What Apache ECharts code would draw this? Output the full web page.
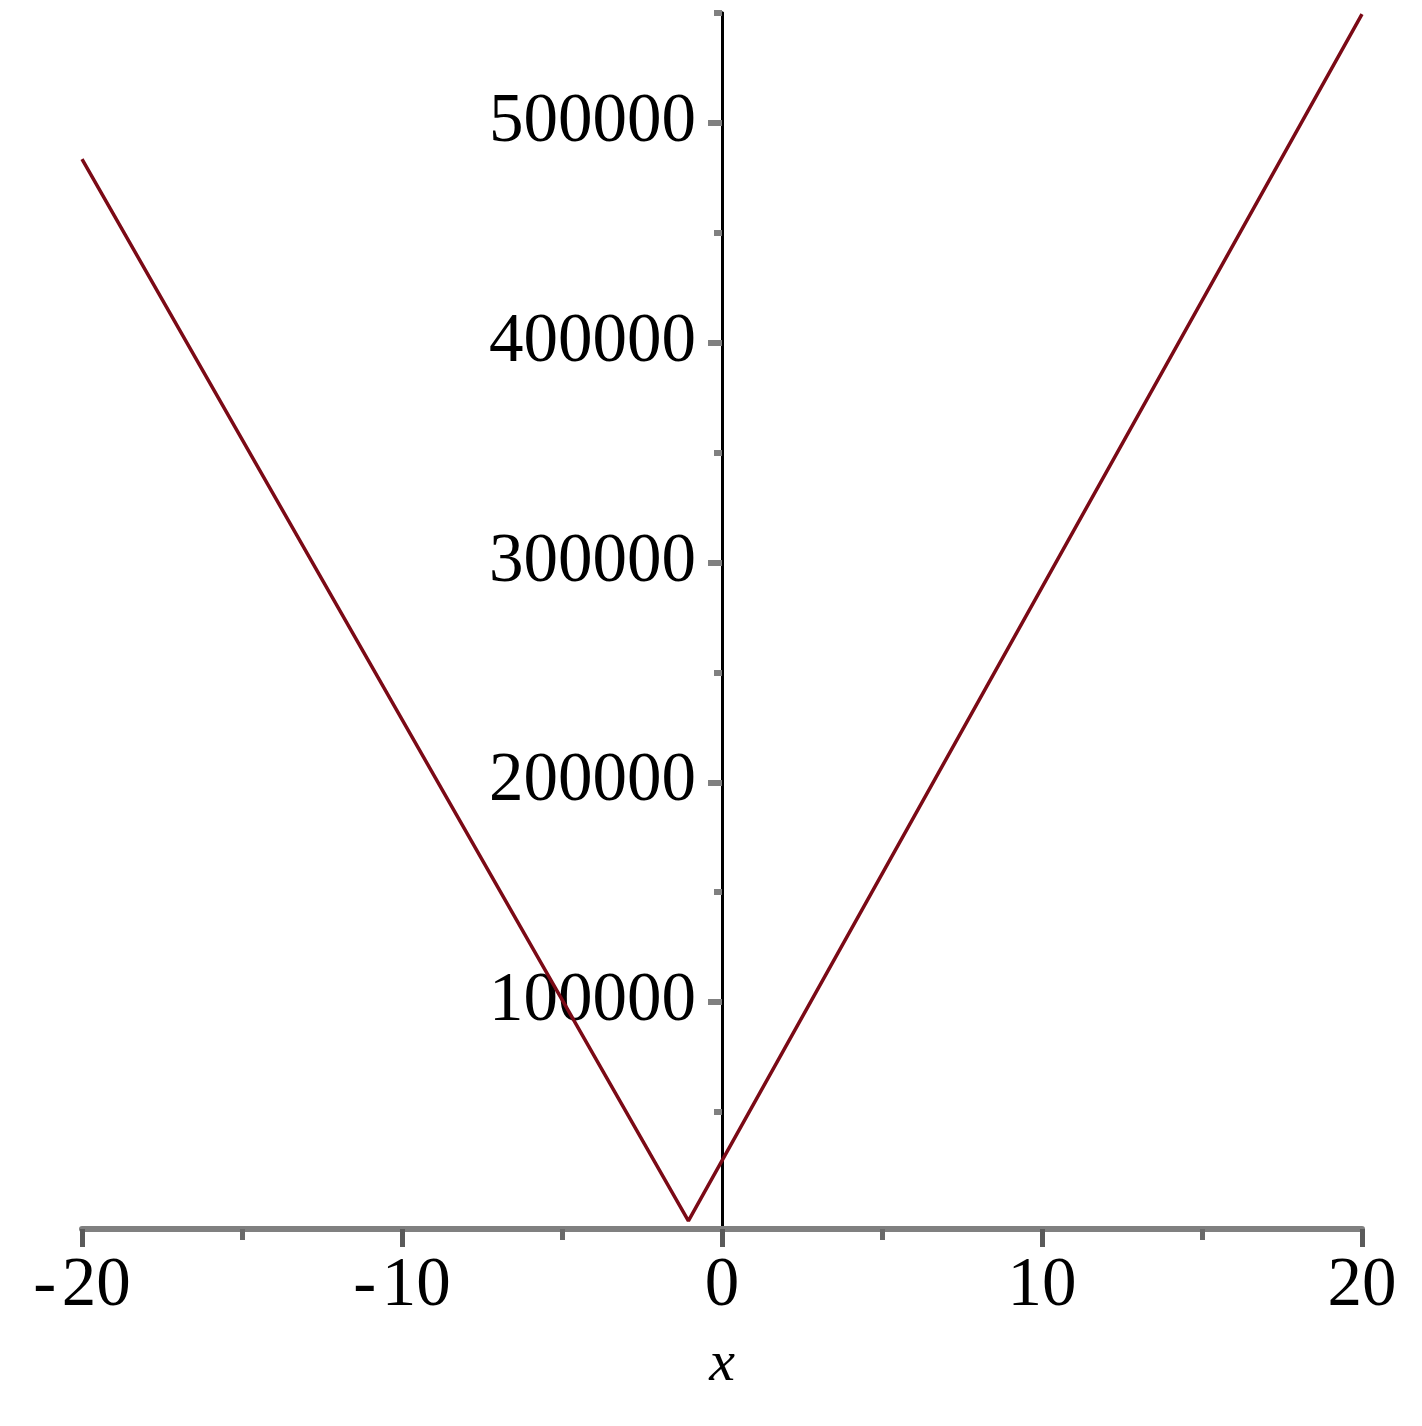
<!DOCTYPE html>
<html>
<head>
<meta charset="utf-8">
<script src="https://cdn.jsdelivr.net/npm/echarts@6/dist/echarts.min.js"></script>
<style>
html,body{margin:0;padding:0;background:#fff;}
#chart{width:1422px;height:1426px;}
</style>
</head>
<body>
<div id="chart"></div>
<script>
// Data
const xValues = [-20, -1.05, 20];
const yValues = [483500, 500, 549500];
const yMajorTicks = [100000, 200000, 300000, 400000, 500000];
const yMinorTicks = [50000, 150000, 250000, 350000, 450000, 550000];
const xRange = [-20, 20];
const yRange = [-3200, 550000];

const seriesData = xValues.map((x, i) => [x, yValues[i]]);

const chart = echarts.init(document.getElementById('chart'), null, {renderer: 'canvas'});
const serif = '"Liberation Serif", "DejaVu Serif", serif';
const gridLeft = 82, gridRight = 60;
const plotWidth = 1422 - gridLeft - gridRight;
// shift y axes so they sit at x = 0
const yOffset = -plotWidth * (0 - xRange[0]) / (xRange[1] - xRange[0]);

const option = {
  animation: false,
  backgroundColor: '#ffffff',
  grid: {left: gridLeft, right: gridRight, top: 13, bottom: 197, containLabel: false, outerBoundsMode: 'none'},
  xAxis: {
    type: 'value',
    min: xRange[0], max: xRange[1], interval: 10,
    axisLine: {onZero: false, lineStyle: {color: '#808080', width: 6}},
    axisTick: {show: true, length: 18, lineStyle: {color: '#5a5a5a', width: 5}},
    minorTick: {show: true, splitNumber: 2, length: 11, lineStyle: {color: '#6a6a6a', width: 5}},
    splitLine: {show: false},
    minorSplitLine: {show: false},
    axisLabel: {
      fontFamily: serif, fontSize: 69, color: '#000', margin: 23,
      formatter: v => (v < 0 ? '-\u200A' + Math.abs(v) : String(v))
    },
    name: 'x',
    nameLocation: 'middle',
    nameGap: 107,
    nameTextStyle: {fontFamily: serif, fontStyle: 'italic', fontSize: 58, color: '#000'}
  },
  yAxis: [
    {
      type: 'value',
      min: yRange[0], max: yRange[1],
      position: 'left',
      offset: yOffset,
      axisLine: {onZero: false, lineStyle: {color: '#000', width: 3}},
      axisTick: {show: true, length: 14, customValues: yMajorTicks, lineStyle: {color: '#808080', width: 6}},
      splitLine: {show: false},
      axisLabel: {
        customValues: yMajorTicks,
        fontFamily: serif, fontSize: 69, color: '#000', margin: 26,
        padding: [13, 0, 0, 0],
        formatter: v => String(v)
      }
    },
    {
      type: 'value',
      min: yRange[0], max: yRange[1],
      position: 'left',
      offset: yOffset,
      axisLine: {onZero: false, lineStyle: {color: '#000', width: 3}},
      axisTick: {show: true, length: 8, customValues: yMinorTicks, lineStyle: {color: '#808080', width: 6}},
      splitLine: {show: false},
      axisLabel: {show: false}
    }
  ],
  series: [{
    type: 'line',
    data: seriesData,
    xAxisIndex: 0,
    yAxisIndex: 0,
    showSymbol: false,
    symbol: 'none',
    lineStyle: {color: '#7b0a16', width: 3.5},
    z: 1
  }]
};
chart.setOption(option);
</script>
</body>
</html>
